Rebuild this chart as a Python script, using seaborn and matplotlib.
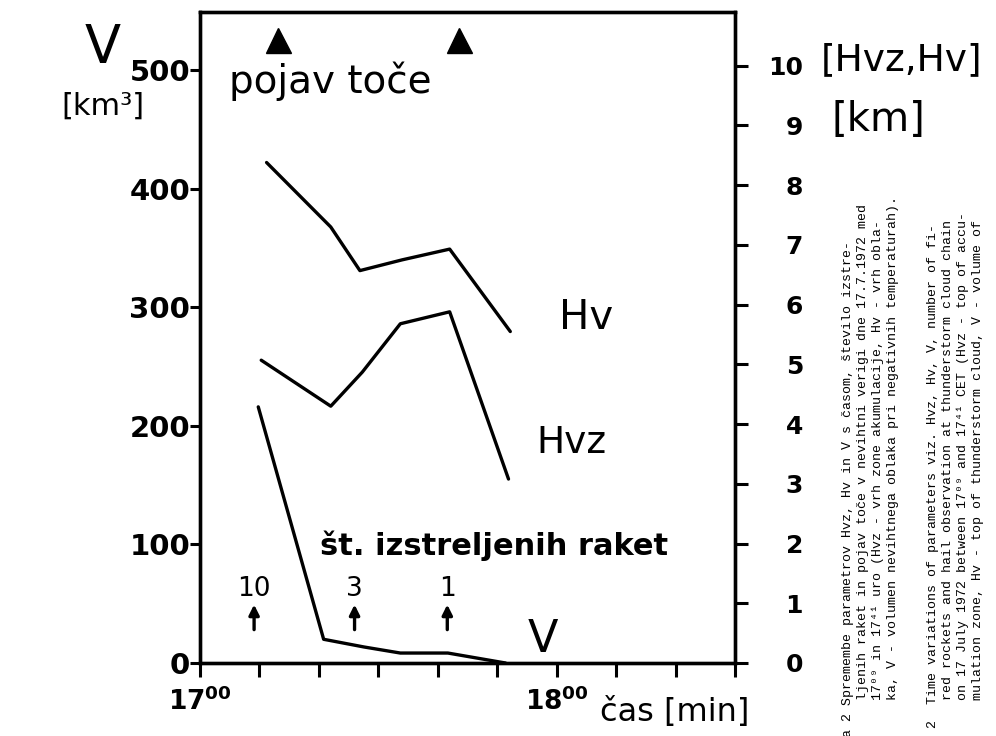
import numpy as np
import pandas as pd
import matplotlib
matplotlib.use('Agg')
import matplotlib.pyplot as plt
import matplotlib.transforms as mtransforms
import seaborn as sns

# time in minutes after 17:00
t_v = [9.8, 20.8, 27.6, 33.7, 41.7, 51.4]
vol = [216, 20, 13.5, 8.4, 8.4, 0]          # V [km3]

t_hv = [11.2, 22.0, 26.9, 34.0, 42.0, 52.2]
hv = [8.38, 7.30, 6.57, 6.75, 6.93, 5.55]    # Hv [km]

t_hvz = [10.3, 22.0, 27.3, 33.7, 42.0, 51.9]
hvz = [5.07, 4.30, 4.87, 5.68, 5.88, 3.08]   # Hvz [km]

rocket_t = [9.1, 26.0, 41.6]
rocket_n = [10, 3, 1]
hail_t = [13.2, 43.6]

x_ticks = list(range(0, 91, 10))
x_ticklabels = [r'$\mathbf{17^{00}}$', '', '', '', '', '', r'$\mathbf{18^{00}}$', '', '', '']
v_ticks = [0, 100, 200, 300, 400, 500]
km_ticks = list(range(0, 11))

cap_si = [
    "a 2 Spremembe parametrov Hvz, Hv in V s časom, število izstre-",
    "ljenih raket in pojav toče v nevihtni verigi dne 17.7.1972 med",
    "17⁰⁹ in 17⁴¹ uro (Hvz - vrh zone akumulacije, Hv - vrh obla-",
    "ka, V - volumen nevihtnega oblaka pri negativnih temperaturah).",
]
cap_en = [
    "2  Time variations of parameters viz. Hvz, Hv, V, number of fi-",
    "red rockets and hail observation at thunderstorm cloud chain",
    "on 17 July 1972 between 17⁰⁹ and 17⁴¹ CET (Hvz - top of accu-",
    "mulation zone, Hv - top of thunderstorm cloud, V - volume of",
]

sns.set_style('white')
plt.rcParams['font.family'] = ['DejaVu Sans']
plt.rcParams['text.color'] = 'black'
plt.rcParams['xtick.color'] = 'black'
plt.rcParams['ytick.color'] = 'black'
plt.rcParams['axes.labelcolor'] = 'black'

W, H = 996, 736
def fx(x):
    return x / W
def fy(y):
    return 1 - y / H

fig = plt.figure(figsize=(9.96, 7.36), dpi=100)
ax = fig.add_axes([fx(200), fy(663), (735 - 200) / W, (663 - 12) / H])
ax2 = ax.twinx()

df_v = pd.DataFrame({'t': t_v, 'V': vol})
df_hv = pd.DataFrame({'t': t_hv, 'km': hv})
df_hvz = pd.DataFrame({'t': t_hvz, 'km': hvz})

sns.lineplot(data=df_v, x='t', y='V', ax=ax, color='k', lw=2.4, sort=False, estimator=None)
sns.lineplot(data=df_hv, x='t', y='km', ax=ax2, color='k', lw=2.4, sort=False, estimator=None)
sns.lineplot(data=df_hvz, x='t', y='km', ax=ax2, color='k', lw=2.4, sort=False, estimator=None)

ax.set_xlim(0, 90)
ax.set_ylim(0, 549)
ax2.set_ylim(0, 10.9)
ax.set_xlabel('')
ax.set_ylabel('')
ax2.set_ylabel('')

for a in (ax, ax2):
    for s in a.spines.values():
        s.set_color('k')
        s.set_linewidth(2.4)

ax.set_xticks(x_ticks)
ax.set_xticklabels(x_ticklabels, fontsize=19, color='k')
ax.tick_params(axis='x', direction='out', length=10, width=2.2, pad=8, bottom=True, color='k')
ax.set_yticks(v_ticks)
ax.set_yticklabels([str(v) for v in v_ticks], fontsize=21, fontweight='bold', color='k')
ax.tick_params(axis='y', direction='out', length=7, width=2.2, pad=0, left=True, color='k')

ax2.set_yticks(km_ticks)
ax2.set_yticklabels([str(k) for k in km_ticks], fontsize=18, fontweight='bold', ha='right', color='k')
ax2.tick_params(axis='y', direction='out', length=9, width=2.2, pad=40, right=True, color='k')

trans = mtransforms.blended_transform_factory(ax.transData, ax.transAxes)

# hail observation
ax.plot(hail_t, [0.957] * len(hail_t), '^', color='k', ms=18, transform=trans, clip_on=False)
ax.text(22, 0.893, 'pojav toče', transform=trans, fontsize=28, ha='center', va='center', color='k')

# fired rockets
for t, n in zip(rocket_t, rocket_n):
    ax.annotate('', xy=(t, 0.094), xytext=(t, 0.047), xycoords=trans, textcoords=trans,
                arrowprops=dict(arrowstyle='-|>', color='k', lw=2.4, mutation_scale=15))
    ax.text(t, 0.113, str(n), transform=trans, fontsize=19, ha='center', va='center', color='k')
ax.text(49.5, 0.18, 'št. izstreljenih raket', transform=trans, fontsize=22,
        ha='center', va='center', fontweight='bold', color='k')

# curve labels
fig.text(fx(586), fy(318), 'Hv', fontsize=29, ha='center', va='center')
fig.text(fx(571), fy(443), 'Hvz', fontsize=27, ha='center', va='center')
fig.text(fx(543), fy(640), 'V', fontsize=32, ha='center', va='center')

# axis titles
fig.text(fx(103), fy(48), 'V', fontsize=38, ha='center', va='center')
fig.text(fx(103), fy(106), '[km³]', fontsize=22, ha='center', va='center')
fig.text(fx(902), fy(60), '[Hvz,Hv]', fontsize=27, ha='center', va='center')
fig.text(fx(878), fy(120), '[km]', fontsize=29, ha='center', va='center')
fig.text(fx(675), fy(712), 'čas [min]', fontsize=23, ha='center', va='center')

# rotated caption
mono = ['Liberation Mono', 'DejaVu Sans Mono']
for line, x, yb in zip(cap_si, [848, 863, 878, 893], [737, 700, 700, 700]):
    fig.text(fx(x), fy(yb), line, rotation=90, ha='center', va='bottom',
             family=mono, fontsize=9.5)
for line, x, yb in zip(cap_en, [933, 948, 963, 978], [728, 700, 700, 700]):
    fig.text(fx(x), fy(yb), line, rotation=90, ha='center', va='bottom',
             family=mono, fontsize=9.5)

fig.savefig('out.png', dpi=100)
